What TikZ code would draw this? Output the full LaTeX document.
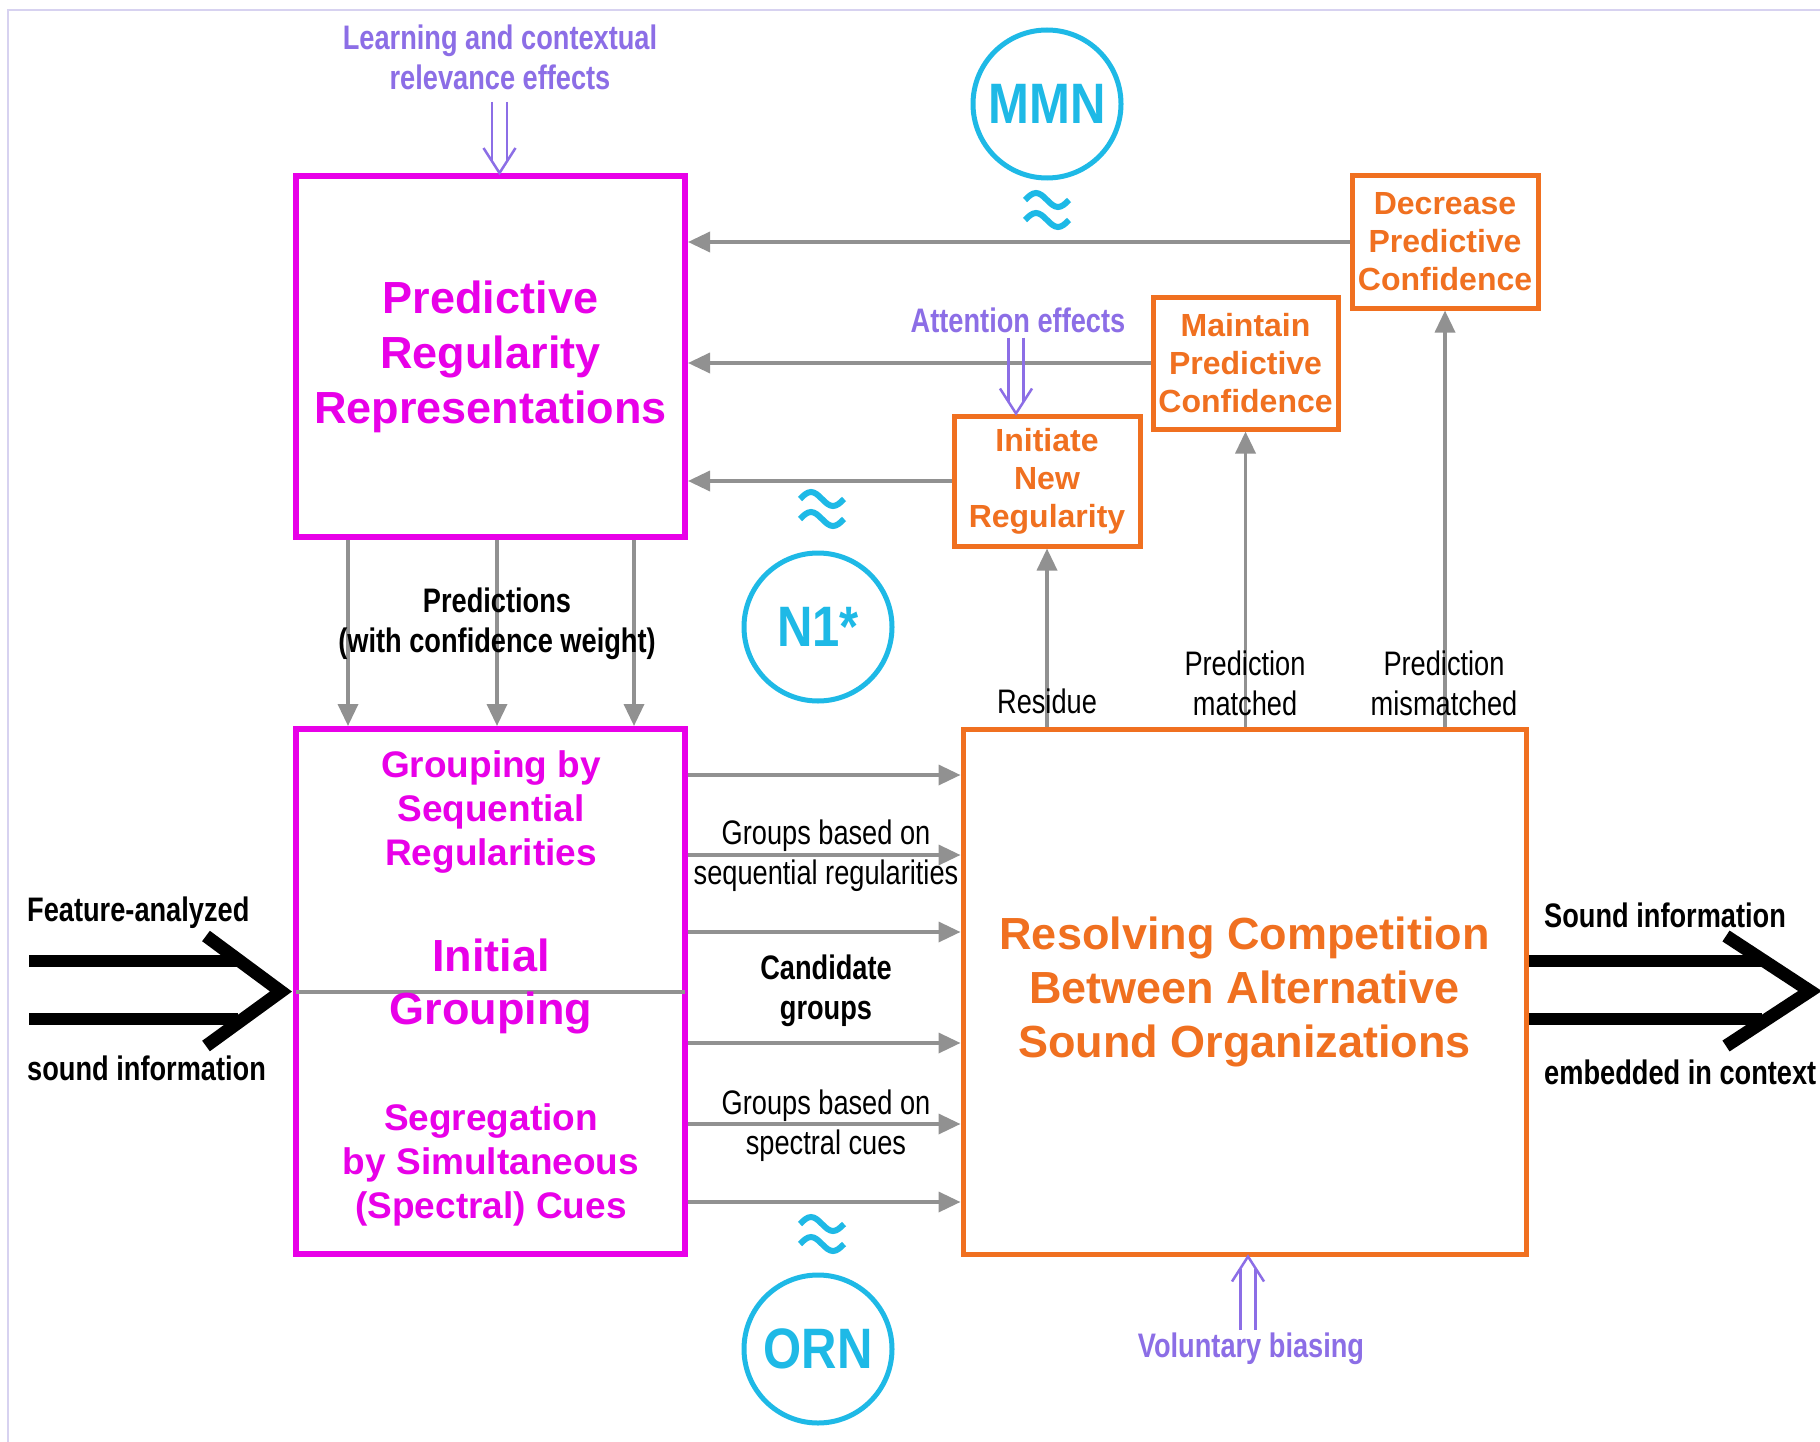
\documentclass[tikz,border=0pt]{standalone}
\usepackage{fontspec}
\setmainfont{Liberation Sans}
\newfontfamily\narrowfont[FakeStretch=0.8]{Liberation Sans}
\newfontfamily\circfont[FakeStretch=0.86]{Liberation Sans}
\usetikzlibrary{arrows.meta,calc}
\definecolor{mag}{RGB}{232,0,232}
\definecolor{org}{RGB}{240,112,32}
\definecolor{cyn}{RGB}{30,185,230}
\definecolor{gry}{RGB}{145,145,145}
\definecolor{purp}{RGB}{140,110,230}
\definecolor{framec}{RGB}{215,210,240}
\newcommand\dnarrow[2]{% tip, length
 \begin{scope}[shift={#1}]
 \draw[purp,line width=2.5pt] (-7.5,-#2) -- (-7.5,-12) (7.5,-#2) -- (7.5,-12);
 \draw[purp,line width=2.5pt,line join=miter] (-16,-25) -- (0,0) -- (16,-25);
 \end{scope}}
\newcommand\uparrowx[2]{% tip, length
 \begin{scope}[shift={#1},yscale=-1]
 \draw[purp,line width=2.5pt] (-7.5,-#2) -- (-7.5,-12) (7.5,-#2) -- (7.5,-12);
 \draw[purp,line width=2.5pt,line join=miter] (-16,-25) -- (0,0) -- (16,-25);
 \end{scope}}
\begin{document}
\begin{tikzpicture}[x=1pt,y=-1pt,
 magbox/.style={rectangle,draw=mag,line width=6pt,inner sep=0pt,outer sep=3pt},
 orgbox/.style={rectangle,draw=org,line width=5pt,inner sep=0pt,outer sep=2.5pt,text=org,font=\bfseries\fontsize{32}{38}\selectfont,align=center},
 ring/.style={circle,draw=cyn,line width=5pt,minimum size=148pt,inner sep=0pt,text=cyn,font=\circfont\bfseries\fontsize{57}{62}\selectfont},
 garr/.style={draw=gry,line width=3.5pt,-{Triangle[length=22pt,width=20pt]}},
 lbl/.style={font=\narrowfont\fontsize{34}{40}\selectfont,align=center,inner sep=0pt},
 blbl/.style={font=\narrowfont\bfseries\fontsize{34}{40}\selectfont,align=center,inner sep=0pt},
 plbl/.style={font=\narrowfont\bfseries\fontsize{34}{40}\selectfont,align=center,inner sep=0pt,text=purp},
 magtxt/.style={text=mag,font=\bfseries\fontsize{37}{44}\selectfont,align=center,inner sep=0pt},
 bigline/.style={line width=12pt,black},
 bigchev/.style={line width=13pt,black,line join=miter},
 approx/.pic={
   \draw[cyn,line width=6pt] (-22,-9) sin (-11,-16) cos (0,-9) sin (11,-2) cos (22,-9);
   \draw[cyn,line width=6pt] (-22,11) sin (-11,4) cos (0,11) sin (11,18) cos (22,11);
 }]
\useasboundingbox (0,0) rectangle (1820,1442);
\fill[white] (0,0) rectangle (1820,1442);
\draw[framec,line width=2pt] (8,1442) -- (8,10) -- (1820,10);

% main boxes
\node[magbox,minimum width=389pt,minimum height=361pt,text=mag,font=\bfseries\fontsize{45}{55}\selectfont,align=center] (prr) at (490.5,356.5) {Predictive\\Regularity\\Representations};
\node[magbox,minimum width=389pt,minimum height=525pt] (ig) at (490.5,991.5) {};
\draw[gry,line width=4pt,shorten <=3pt,shorten >=3pt] (ig.west) -- (ig.east);
\node[magtxt] (seq) at (491,812) {Grouping by\\Sequential\\Regularities};
\node[magtxt,font=\bfseries\fontsize{45}{53}\selectfont] (initg) at (491,986) {Initial\\Grouping};
\node[magtxt] (spec) at (491,1165) {Segregation\\by Simultaneous\\(Spectral) Cues};

\node[orgbox,minimum width=563pt,minimum height=525pt,font=\bfseries\fontsize{45}{54}\selectfont] (res) at (1244.5,991.5) {Resolving Competition\\Between Alternative\\Sound Organizations};
\node[orgbox,minimum width=186pt,minimum height=130pt] (init) at (1047,481) {Initiate\\New\\Regularity};
\node[orgbox,minimum width=185pt,minimum height=132pt] (maint) at (1245.5,363) {Maintain\\Predictive\\Confidence};
\node[orgbox,minimum width=186pt,minimum height=132pt] (decr) at (1445,242) {Decrease\\Predictive\\Confidence};

% circles
\node[ring] (mmn) at (1047,104) {MMN};
\node[ring] (n1) at (818,627) {N1*};
\node[ring] (orn) at (818,1349) {ORN};
\pic at (1047,209) {approx};
\pic at (822,508) {approx};
\pic at (822,1233) {approx};

% feedback arrows
\draw[garr] (decr.west) -- (decr.west -| prr.east);
\draw[garr] (maint.west) -- (maint.west -| prr.east);
\draw[garr] (init.west) -- (init.west -| prr.east);
\draw[garr] (res.north -| init.south) -- (init.south);
\draw[garr] (res.north -| maint.south) -- (maint.south);
\draw[garr] (res.north -| decr.south) -- (decr.south);

% predictions
\foreach \dx in {-142.5,6.5,143.5}
  \draw[garr] ([xshift=\dx pt]prr.south) -- ([xshift=\dx pt]ig.north);

% candidate groups
\foreach \yy [count=\i] in {775,855,932,1043,1124,1202}{
  \coordinate (r\i) at (0,\yy);
  \draw[garr] (ig.east |- r\i) -- (res.west |- r\i);
}

% labels
\node[blbl] (pred) at (497,624) {Predictions\\(with confidence weight)};
\node[lbl] (gseq) at (826,855.5) {Groups based on\\sequential regularities};
\node[blbl] (cand) at (826,991) {Candidate\\groups};
\node[lbl] (gspec) at (826,1125.5) {Groups based on\\spectral cues};
\node[lbl] (resid) at (1047,701) {Residue};
\node[lbl] (pm) at (1245,683) {Prediction\\matched};
\node[lbl] (pmm) at (1444,683) {Prediction\\mismatched};
\node[plbl] (learn) at (500,57) {Learning and contextual\\relevance effects};
\node[plbl] (att) at (1018,320) {Attention effects};
\node[plbl] (vol) at (1251,1349) {Voluntary biasing};
\node[blbl,anchor=west] (fa) at (27,913) {Feature-analyzed};
\node[blbl,anchor=west] (si) at (27,1068) {sound information};
\node[blbl,anchor=west] (so) at (1544,915) {Sound information};
\node[blbl,anchor=west] (emb) at (1544,1072) {embedded in context};

% purple double arrows
\dnarrow{($(prr.north)+(9,0)$)}{71}
\dnarrow{($(init.north)+(-31,0)$)}{76}
\uparrowx{($(res.south)+(3.5,0)$)}{73}

% big black arrows
\coordinate (inl) at (29,0);
\coordinate (outr) at (1762,0);
\draw[bigline] (29,961) -- (238,961) (29,1019) -- (238,1019);
\draw[bigchev] (206,936) -- ([xshift=-12pt]ig.west) -- (206,1046);
\draw[bigline] ([yshift=30.5pt]res.east) -- (1762,961) ([yshift=-27.5pt]res.east) -- (1762,1019);
\draw[bigchev] (1726,936) -- (1810,991) -- (1726,1046);
\end{tikzpicture}
\end{document}
